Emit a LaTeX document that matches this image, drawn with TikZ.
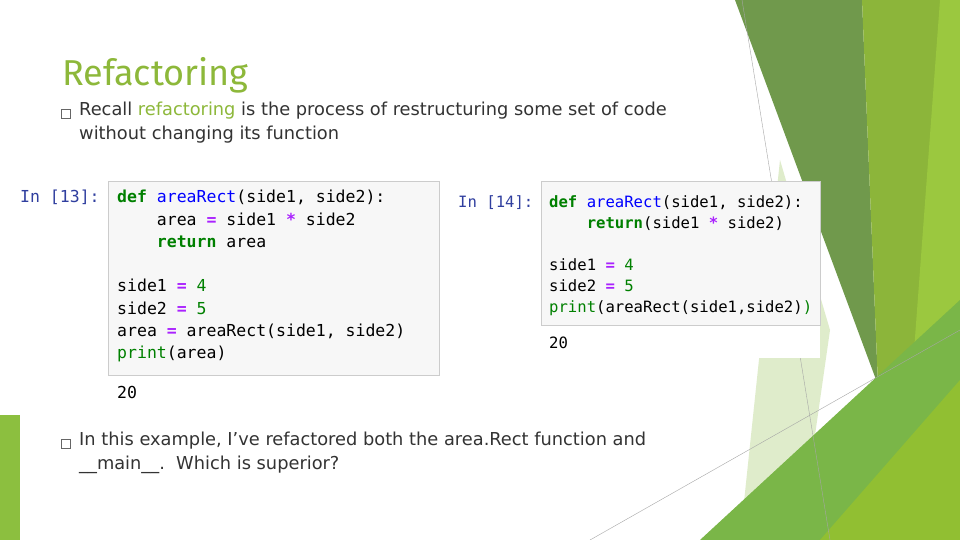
\documentclass[tikz,border=0pt]{standalone}
\usepackage{fontspec}
\setmainfont{DejaVu Sans}
\setmonofont{DejaVu Sans Mono}
\newfontfamily\titlefont{Fira Sans}
\definecolor{kw}{HTML}{008000}
\definecolor{fn}{HTML}{0000FF}
\definecolor{op}{HTML}{AA22FF}
\definecolor{prm}{HTML}{303F9F}
\definecolor{accent}{HTML}{8DB83A}
\definecolor{paleg}{HTML}{DFECCB}
\definecolor{darkg}{HTML}{70994C}
\definecolor{midg}{HTML}{8CB53A}
\definecolor{brightg}{HTML}{9BC83F}
\definecolor{botg}{HTML}{7AB648}
\definecolor{botg2}{HTML}{91BF32}
\definecolor{barg}{HTML}{8CBF3F}
\newcommand{\K}[1]{\textcolor{kw}{\textbf{#1}}}
\newcommand{\F}[1]{\textcolor{fn}{#1}}
\newcommand{\OP}[1]{\textcolor{op}{\textbf{#1}}}
\newcommand{\N}[1]{\textcolor{kw}{#1}}
\begin{document}
\begin{tikzpicture}[x=1pt,y=-1pt,
  code/.style={anchor=north west,inner sep=0pt,font=\ttfamily\fontsize{16.5}{22.3}\selectfont,align=left},
  codeb/.style={anchor=north west,inner sep=0pt,font=\ttfamily\fontsize{15.6}{21}\selectfont,align=left},
  body/.style={anchor=north west,inner sep=0pt,font=\fontsize{17.8}{24}\selectfont,text=black!80,align=left},
  bul/.style={draw=black!60,line width=0.6pt,minimum size=9pt,inner sep=0pt},
  glines/.style={draw=black!35,line width=0.4pt}]
\useasboundingbox (0,0) rectangle (960,540);
\fill[white] (0,0) rectangle (960,540);
% background decoration
\fill[paleg] (780,160) -- (830,330) -- (800,540) -- (740,540) -- cycle;
\fill[darkg] (735,0) -- (862,0) -- (878,385) -- cycle;
\fill[midg] (862,0) -- (960,0) -- (960,540) -- (878,540) -- (878,385) -- cycle;
\fill[brightg] (940,0) -- (960,0) -- (960,540) -- (900,540) -- cycle;
\fill[botg] (700,540) -- (960,300) -- (960,540) -- cycle;
\fill[botg2] (820,540) -- (960,380) -- (960,540) -- cycle;
\fill[barg] (0,415) rectangle (20,540);
\draw[glines] (742,0) -- (830,540);
\draw[glines] (590,540) -- (960,330);
% title
\node[anchor=west,inner sep=0pt,text=accent,font=\titlefont\fontsize{36}{42}\selectfont] (title) at (62,75) {Refactoring};
% bullets
\node[bul] (b1) at (66,114) {};
\node[body] (t1) at (79,102) {Recall \textcolor{accent}{refactoring} is the process of restructuring some set of code\\without changing its function};
\node[bul] (b2) at (66,444) {};
\node[body] (t2) at (79,432) {In this example, I’ve refactored both the area.Rect function and\\\_\_main\_\_.\ \ Which is superior?};
% code cell 1
\draw[fill=black!3,draw=black!20] (108,181) rectangle (439,375);
\node[code,text=prm] (p1) at (20,190) {In [13]:};
\node[code] (c1) at (117,190) {\K{def} \F{areaRect}(side1, side2):\\
\ \ \ \ area \OP{=} side1 \OP{*} side2\\
\ \ \ \ \K{return} area\\[22.3pt]
side1 \OP{=} \N{4}\\
side2 \OP{=} \N{5}\\
area \OP{=} areaRect(side1, side2)\\
\N{print}(area)};
\node[code] (o1) at (117,386) {20};
% code cell 2
\fill[white] (455,325) rectangle (820,358);
\draw[fill=black!3,draw=black!20] (541,181) rectangle (820,325);
\node[codeb,text=prm] (p2) at (458,195) {In [14]:};
\node[codeb] (c2) at (549,195) {\K{def} \F{areaRect}(side1, side2):\\
\ \ \ \ \K{return}(side1 \OP{*} side2)\\[21pt]
side1 \OP{=} \N{4}\\
side2 \OP{=} \N{5}\\
\N{print}(areaRect(side1,side2)\N{)}};
\node[codeb] (o2) at (549,337) {20};
\end{tikzpicture}
\end{document}
